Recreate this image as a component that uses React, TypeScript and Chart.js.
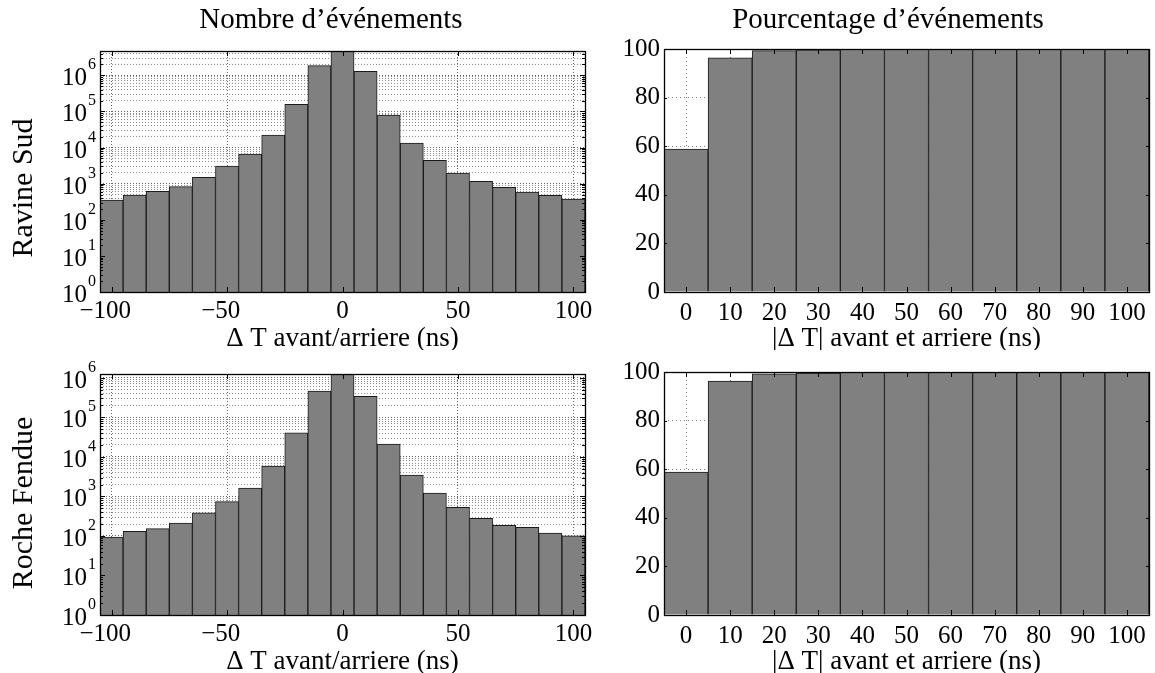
import React, { useEffect, useRef } from 'react';
import { Chart, registerables } from 'chart.js';

Chart.register(...registerables);

const SERIF = '"Liberation Serif", "Times New Roman", serif';

// ---- data ----
const binCenters = [-100, -90, -80, -70, -60, -50, -40, -30, -20, -10, 0, 10, 20, 30, 40, 50, 60, 70, 80, 90, 100];
const ravineSudCounts = [352, 485, 614, 823, 1500, 3080, 6620, 22200, 157000, 1850000, 4700000, 1290000, 79000, 13300, 4430, 1970, 1160, 790, 586, 475, 375];
const rocheFendueCounts = [94, 131, 153, 212, 387, 736, 1630, 5880, 40900, 464000, 1250000, 341000, 21200, 3480, 1220, 530, 279, 186, 165, 119, 100];

const absBinCenters = [0, 10, 20, 30, 40, 50, 60, 70, 80, 90, 100];
const ravineSudPercent = [58.8, 96.4, 99.3, 99.7, 99.9, 100, 100, 100, 100, 100, 100];
const rocheFenduePercent = [58.8, 96.3, 99.2, 99.6, 99.9, 100, 100, 100, 100, 100, 100];

const countXTicks = [-100, -50, 0, 50, 100];
const percentXTicks = [0, 10, 20, 30, 40, 50, 60, 70, 80, 90, 100];
const percentYTicks = [0, 20, 40, 60, 80, 100];
const logExponents = [0, 1, 2, 3, 4, 5, 6];
const logMantissas = [1, 2, 3, 4, 5, 6, 7, 8, 9];

const columnTitles = ['Nombre d’événements', 'Pourcentage d’événements'];
const rowTitles = ['Ravine Sud', 'Roche Fendue'];
const countXLabel = 'Δ T avant/arriere (ns)';
const percentXLabel = '|Δ T| avant et arriere (ns)';

// ---- geometry (page px) ----
type Geo = { cl: number; ct: number; cw: number; ch: number; pl: number; pt: number; pr: number; pb: number };
const GEO_TL: Geo = { cl: 0, ct: 0, cw: 615, ch: 350, pl: 100, pt: 51, pr: 585, pb: 292 };
const GEO_TR: Geo = { cl: 615, ct: 0, cw: 540, ch: 350, pl: 664, pt: 49, pr: 1149, pb: 292 };
const GEO_BL: Geo = { cl: 0, ct: 350, cw: 615, ch: 323, pl: 100, pt: 374, pr: 585, pb: 615 };
const GEO_BR: Geo = { cl: 615, ct: 350, cw: 540, ch: 323, pl: 664, pt: 372, pr: 1149, pb: 615 };

const FILL = '#808080';
const EDGE = '#1a1a1a';
const DOTS = [1, 2];

function layoutFor(g: Geo) {
  return { padding: { left: 0, top: g.pt - g.ct, right: g.cl + g.cw - g.pr, bottom: 0 } };
}

const framePlugin = {
  id: 'frame',
  afterDatasetsDraw(chart: any) {
    const { ctx, chartArea: a } = chart;
    const xs = chart.scales.x;
    const ys = chart.scales.y;
    ctx.save();
    ctx.strokeStyle = '#000';
    ctx.lineWidth = 1;
    ctx.beginPath();
    for (const t of ys.ticks) {
      const py = Math.round(ys.getPixelForValue(t.value)) + 0.5;
      const len = t.major ? 5 : 3;
      ctx.moveTo(a.left, py);
      ctx.lineTo(a.left + len, py);
      ctx.moveTo(a.right, py);
      ctx.lineTo(a.right - len, py);
    }
    for (const t of xs.ticks) {
      const px = Math.round(xs.getPixelForValue(t.value)) + 0.5;
      ctx.moveTo(px, a.top);
      ctx.lineTo(px, a.top + 5);
      ctx.moveTo(px, a.bottom);
      ctx.lineTo(px, a.bottom - 5);
    }
    ctx.stroke();
    ctx.lineWidth = 1.3;
    ctx.strokeRect(Math.round(a.left) + 0.5, Math.round(a.top) + 0.5, Math.round(a.right - a.left), Math.round(a.bottom - a.top));
    ctx.restore();
  },
};

const xLabelPlugin = {
  id: 'xLabel',
  afterDraw(chart: any, _args: any, opts: any) {
    const { ctx, chartArea: a } = chart;
    ctx.save();
    ctx.fillStyle = '#000';
    ctx.font = `${opts.size}px ${SERIF}`;
    ctx.textAlign = 'center';
    ctx.textBaseline = 'alphabetic';
    ctx.fillText(opts.text, (a.left + a.right) / 2, a.bottom + opts.offset);
    ctx.restore();
  },
};

const logLabelPlugin = {
  id: 'logLabels',
  afterDraw(chart: any) {
    const { ctx, chartArea: a } = chart;
    const s = chart.scales.y;
    ctx.save();
    ctx.fillStyle = '#000';
    ctx.textAlign = 'right';
    ctx.textBaseline = 'alphabetic';
    for (const e of logExponents) {
      const v = Math.pow(10, e);
      if (v > s.max * 1.0001) continue;
      const py = s.getPixelForValue(v);
      ctx.font = `16px ${SERIF}`;
      const ew = ctx.measureText(String(e)).width;
      const xr = a.left - 4;
      ctx.fillText(String(e), xr, py - 6);
      ctx.font = `25px ${SERIF}`;
      ctx.fillText('10', xr - ew - 1, py + 10);
    }
    ctx.restore();
  },
};

function barDataset(xs: number[], ys: number[]) {
  return {
    data: xs.map((x, i) => ({ x, y: ys[i] })),
    backgroundColor: FILL,
    borderColor: EDGE,
    borderWidth: 1,
    borderSkipped: 'bottom',
    barPercentage: 1,
    categoryPercentage: 1,
    grouped: false,
  };
}

function countChart(g: Geo, counts: number[]) {
  const yMax = Math.max(...counts);
  return {
    type: 'bar',
    data: { datasets: [barDataset(binCenters, counts)] },
    options: {
      responsive: false,
      animation: false,
      devicePixelRatio: 1,
      layout: layoutFor(g),
      plugins: {
        legend: { display: false },
        tooltip: { enabled: false },
        xLabel: { text: countXLabel, size: 27, offset: 54 },
      },
      scales: {
        x: {
          type: 'linear',
          offset: false,
          min: -105,
          max: 105,
          afterBuildTicks: (s: any) => {
            s.ticks = countXTicks.map((v) => ({ value: v }));
          },
          afterFit: (s: any) => {
            s.height = g.ct + g.ch - g.pb;
          },
          border: { display: false, dash: DOTS },
          grid: { color: 'rgba(0,0,0,0.6)', lineWidth: 1, drawTicks: false, offset: false, borderDash: DOTS },
          ticks: {
            autoSkip: false,
            maxRotation: 0,
            padding: 4,
            color: '#000',
            font: { family: SERIF, size: 25 },
            callback: (v: any) => (v < 0 ? '\u2212' + Math.abs(v) + '\u2007' : String(v)),
          },
        },
        y: {
          type: 'logarithmic',
          min: 1,
          max: yMax,
          afterBuildTicks: (s: any) => {
            const t: any[] = [];
            for (const e of logExponents) {
              for (const m of logMantissas) {
                const v = m * Math.pow(10, e);
                if (v <= yMax) t.push({ value: v, major: m === 1 });
              }
            }
            s.ticks = t;
          },
          afterFit: (s: any) => {
            s.width = g.pl - g.cl;
          },
          border: { display: false, dash: DOTS },
          grid: {
            color: (c: any) => (c.tick && c.tick.major ? 'rgba(0,0,0,0.6)' : 'rgba(0,0,0,0.45)'),
            lineWidth: 1,
            drawTicks: false,
            borderDash: DOTS,
          },
          ticks: { display: false, autoSkip: false },
        },
      },
    },
    plugins: [framePlugin, xLabelPlugin, logLabelPlugin],
  };
}

function percentChart(g: Geo, pct: number[]) {
  return {
    type: 'bar',
    data: { datasets: [barDataset(absBinCenters, pct)] },
    options: {
      responsive: false,
      animation: false,
      devicePixelRatio: 1,
      layout: layoutFor(g),
      plugins: {
        legend: { display: false },
        tooltip: { enabled: false },
        xLabel: { text: percentXLabel, size: 27, offset: 54 },
      },
      scales: {
        x: {
          type: 'linear',
          offset: false,
          min: -5,
          max: 105,
          afterBuildTicks: (s: any) => {
            s.ticks = percentXTicks.map((v) => ({ value: v }));
          },
          afterFit: (s: any) => {
            s.height = g.ct + g.ch - g.pb;
          },
          border: { display: false, dash: [1, 3] },
          grid: { color: 'rgba(0,0,0,0.5)', lineWidth: 1, drawTicks: false, offset: false, borderDash: [1, 3] },
          ticks: {
            autoSkip: false,
            maxRotation: 0,
            padding: 6,
            color: '#000',
            font: { family: SERIF, size: 25 },
          },
        },
        y: {
          type: 'linear',
          min: 0,
          max: 100,
          afterBuildTicks: (s: any) => {
            s.ticks = percentYTicks.map((v) => ({ value: v }));
          },
          afterFit: (s: any) => {
            s.width = g.pl - g.cl;
          },
          border: { display: false, dash: [1, 3] },
          grid: { color: 'rgba(0,0,0,0.5)', lineWidth: 1, drawTicks: false, borderDash: [1, 3] },
          ticks: {
            autoSkip: false,
            padding: 4,
            color: '#000',
            font: { family: SERIF, size: 25 },
          },
        },
      },
    },
    plugins: [framePlugin, xLabelPlugin],
  };
}

function Panel({ geo, make }: { geo: Geo; make: (g: Geo) => any }) {
  const ref = useRef<HTMLCanvasElement>(null);
  useEffect(() => {
    const chart = new Chart(ref.current as HTMLCanvasElement, make(geo));
    return () => chart.destroy();
  }, []);
  return (
    <canvas
      ref={ref}
      width={geo.cw}
      height={geo.ch}
      style={{ position: 'absolute', left: geo.cl, top: geo.ct, width: geo.cw, height: geo.ch }}
    />
  );
}

const textBase: React.CSSProperties = {
  position: 'absolute',
  fontFamily: SERIF,
  color: '#000',
  whiteSpace: 'nowrap',
  lineHeight: 1,
};

export default function App() {
  return (
    <div style={{ position: 'absolute', left: 0, top: 0, width: 1155, height: 673, background: '#fff', overflow: 'hidden' }}>
      <Panel geo={GEO_TL} make={(g) => countChart(g, ravineSudCounts)} />
      <Panel geo={GEO_TR} make={(g) => percentChart(g, ravineSudPercent)} />
      <Panel geo={GEO_BL} make={(g) => countChart(g, rocheFendueCounts)} />
      <Panel geo={GEO_BR} make={(g) => percentChart(g, rocheFenduePercent)} />
      <div style={{ ...textBase, fontSize: 29, top: 4, left: 331, transform: 'translateX(-50%)' }}>{columnTitles[0]}</div>
      <div style={{ ...textBase, fontSize: 29, top: 4, left: 888, transform: 'translateX(-50%)' }}>{columnTitles[1]}</div>
      <div style={{ ...textBase, fontSize: 30, left: 22, top: 188, transform: 'translate(-50%,-50%) rotate(-90deg)' }}>{rowTitles[0]}</div>
      <div style={{ ...textBase, fontSize: 30, left: 22, top: 503, transform: 'translate(-50%,-50%) rotate(-90deg)' }}>{rowTitles[1]}</div>
    </div>
  );
}
